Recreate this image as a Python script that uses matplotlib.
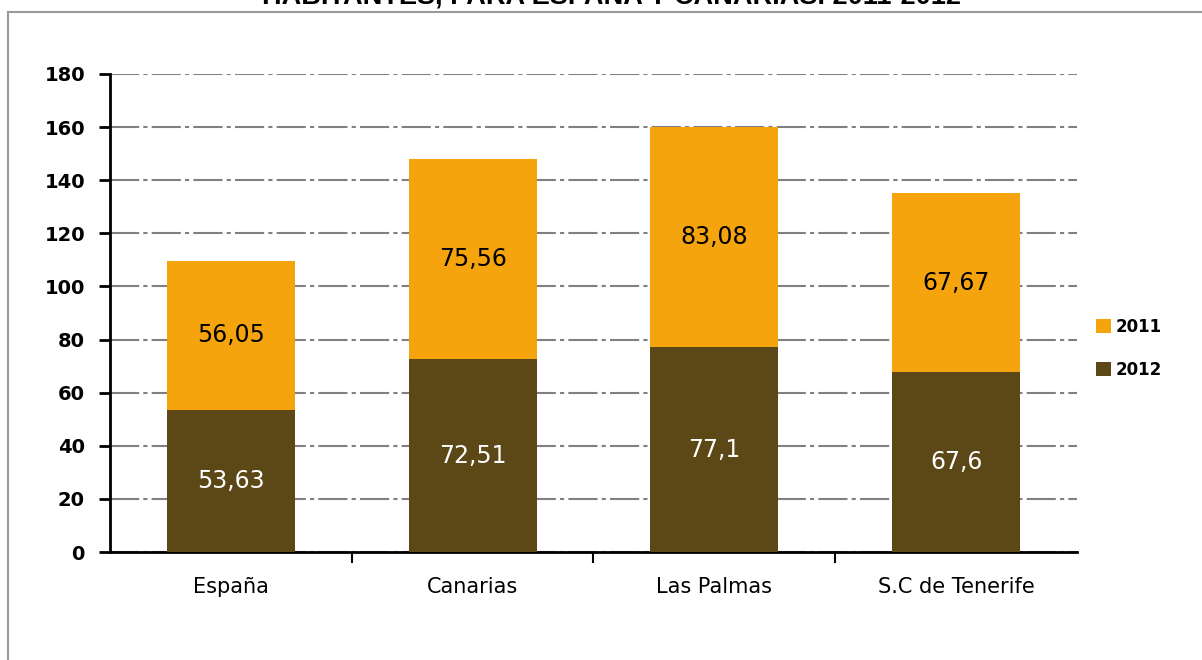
import matplotlib.pyplot as plt
from matplotlib.lines import Line2D

# Data
categories = ['España', 'Canarias', 'Las Palmas', 'S.C de Tenerife']
values_2012 = [53.63, 72.51, 77.1, 67.6]
values_2011 = [56.05, 75.56, 83.08, 67.67]
y_ticks = [0, 20, 40, 60, 80, 100, 120, 140, 160, 180]

color_2011 = '#F5A40E'
color_2012 = '#5C4716'

fig = plt.figure(figsize=(12.02, 6.6), dpi=100)
ax = fig.add_axes([0.0915, 0.1636, 0.8045, 0.7243])

x = list(range(len(categories)))
width = 0.53
ax.bar(x, values_2012, width, color=color_2012, label='2012', zorder=3)
ax.bar(x, values_2011, width, bottom=values_2012, color=color_2011, label='2011', zorder=3)

# Data labels
for i in x:
    b, t = values_2012[i], values_2011[i]
    ax.text(i, b / 2, f'{b:g}'.replace('.', ','), ha='center', va='center',
            color='white', fontsize=17, zorder=4)
    ax.text(i, b + t / 2, f'{t:g}'.replace('.', ','), ha='center', va='center',
            color='black', fontsize=17, zorder=4)

ax.set_xlim(-0.5, 3.5)
ax.set_ylim(0, 180)
ax.set_yticks(y_ticks)
ax.set_yticklabels([str(v) for v in y_ticks], fontsize=14, fontweight='bold')

# category labels centered, tick marks at the boundaries
ax.set_xticks(x)
ax.set_xticklabels(categories, fontsize=15)
ax.tick_params(axis='x', length=0, pad=18)
ax.set_xticks([0.5, 1.5, 2.5], minor=True)
ax.tick_params(axis='x', which='minor', length=8, width=1.5, direction='out', color='black')
ax.tick_params(axis='y', length=8, width=2, direction='out', color='black', pad=10)

ax.yaxis.grid(True, color='#808080', linestyle=(0, (14, 2, 2, 2)), linewidth=1.5, zorder=0)
ax.set_axisbelow(True)

for s in ['top', 'right']:
    ax.spines[s].set_visible(False)
ax.spines['left'].set_linewidth(2)
ax.spines['bottom'].set_linewidth(2)

# Legend (2011 above 2012)
handles, labels = ax.get_legend_handles_labels()
leg = fig.legend(handles[::-1], labels[::-1], loc='center left',
                 bbox_to_anchor=(0.899, 0.472), frameon=False,
                 handlelength=0.9, handleheight=0.9, handletextpad=0.3,
                 labelspacing=1.5, prop={'size': 12, 'weight': 'bold'})

# Outer frame (left and top edges)
fig.add_artist(Line2D([8 / 1202, 8 / 1202], [0, 1 - 12 / 660], color='#999999', linewidth=1.5))
fig.add_artist(Line2D([8 / 1202, 1], [1 - 12 / 660, 1 - 12 / 660], color='#999999', linewidth=1.5))

# Title, cut off at the top edge
fig.text(0.509, 1 - 4 / 660, 'HABITANTES, PARA ESPAÑA Y CANARIAS. 2011-2012',
         ha='center', va='baseline', fontsize=19.5, fontweight='bold',
         family='Liberation Sans')

fig.savefig('out.png', dpi=100)
